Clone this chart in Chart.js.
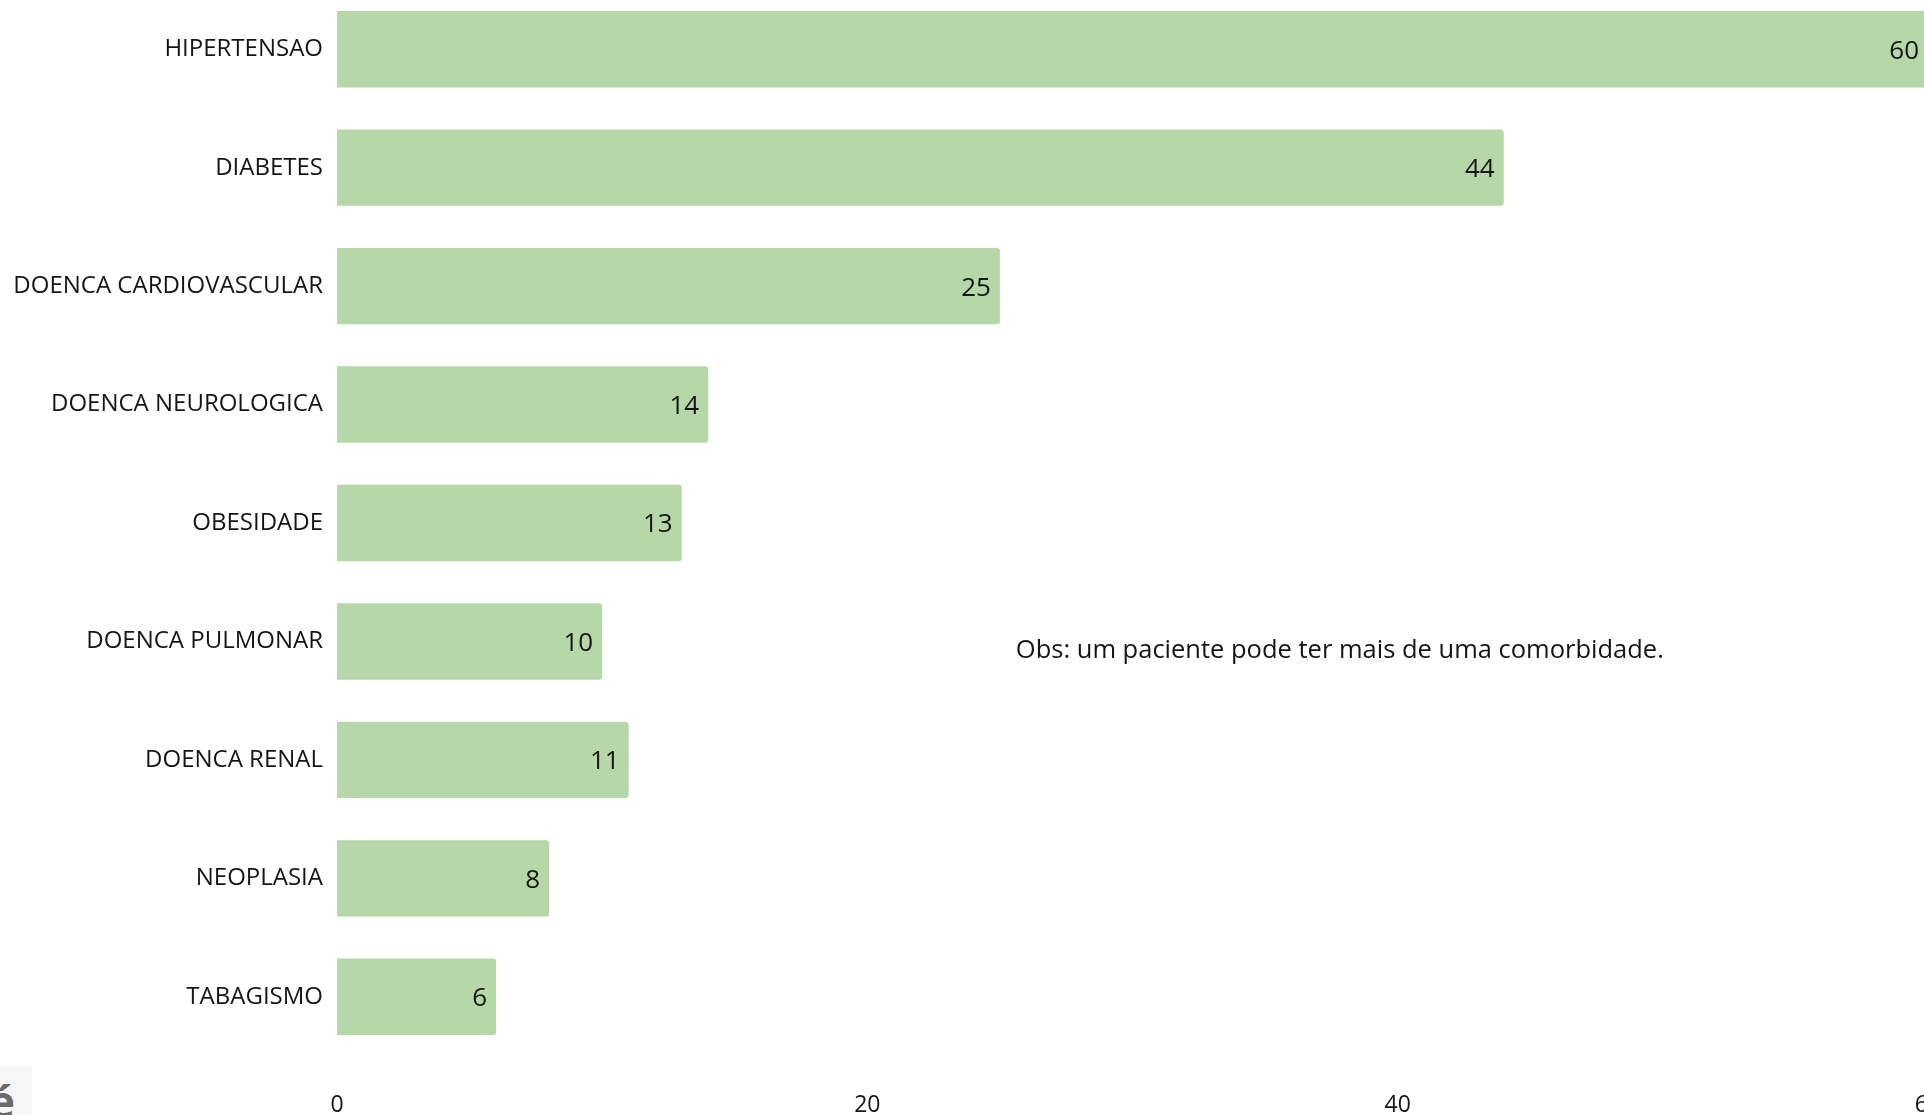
<!DOCTYPE html>
<html>
<head>
<meta charset="utf-8">
<script src="https://cdn.jsdelivr.net/npm/chart.js@4.4.1/dist/chart.umd.min.js"></script>
<style>
  html, body { margin: 0; padding: 0; background: #fff; overflow: hidden; width: 1924px; height: 1115px; }
  #wrap { position: absolute; left: 0; top: -10px; width: 1945px; height: 1130px; }
  #corner { position: absolute; left: 0; top: 1066px; width: 32px; height: 49px; background: #f6f6f6; overflow: hidden; }
  #corner span { position: absolute; left: -11px; top: 5px; font: bold 44px "Open Sans", sans-serif; line-height: normal; color: #6a6a6a; }
</style>
</head>
<body>
<div id="wrap"><canvas id="chart"></canvas></div>
<div id="corner"><span>é</span></div>
<script>
const categories = [
  "HIPERTENSAO", "DIABETES", "DOENCA CARDIOVASCULAR", "DOENCA NEUROLOGICA",
  "OBESIDADE", "DOENCA PULMONAR", "DOENCA RENAL", "NEOPLASIA", "TABAGISMO"
];
const values = [60, 44, 25, 14, 13, 10, 11, 8, 6];
const xTicks = [0, 20, 40, 60];
const note = "Obs: um paciente pode ter mais de uma comorbidade.";

const barColor = "rgb(182, 216, 168)";
const textColor = "#151515";

const valueLabels = {
  id: "valueLabels",
  afterDatasetsDraw(chart) {
    const { ctx } = chart;
    const meta = chart.getDatasetMeta(0);
    ctx.save();
    ctx.font = '26px "Open Sans", sans-serif';
    ctx.fillStyle = textColor;
    ctx.textAlign = "right";
    ctx.textBaseline = "middle";
    meta.data.forEach((bar, i) => {
      ctx.fillText(String(values[i]), bar.x - 9, bar.y + 2);
    });
    ctx.restore();
  }
};

const noteText = {
  id: "noteText",
  afterDraw(chart) {
    const { ctx, scales } = chart;
    ctx.save();
    ctx.font = '25.5px "Open Sans", sans-serif';
    ctx.fillStyle = textColor;
    ctx.textAlign = "left";
    ctx.textBaseline = "middle";
    ctx.fillText(note, scales.x.getPixelForValue(25.6), scales.y.getPixelForValue(5) + 9);
    ctx.restore();
  }
};

new Chart(document.querySelector("#chart"), {
  type: "bar",
  data: {
    labels: categories,
    datasets: [{
      data: values,
      backgroundColor: barColor,
      borderWidth: 0,
      borderRadius: 3,
      borderSkipped: "start",
      barPercentage: 0.645,
      categoryPercentage: 1
    }]
  },
  options: {
    indexAxis: "y",
    responsive: true,
    maintainAspectRatio: false,
    animation: false,
    layout: { padding: { left: 0, right: 17, top: 0, bottom: 0 } },
    scales: {
      x: {
        min: 0,
        max: 60,
        afterBuildTicks: axis => { axis.ticks = xTicks.map(v => ({ value: v })); },
        afterFit: axis => {
          axis.height = 64;
          axis.paddingLeft = 0;
          axis.paddingRight = 0;
        },
        grid: { display: false, drawTicks: false },
        border: { display: false },
        ticks: { color: textColor, padding: 36, font: { family: "Open Sans", size: 23 }, maxRotation: 0 }
      },
      y: {
        afterFit: axis => {
          axis.width = 337;
          axis.paddingTop = 0;
          axis.paddingBottom = 0;
        },
        grid: { display: false, drawTicks: false },
        border: { display: false },
        ticks: { color: textColor, padding: 14, font: { family: "Open Sans", size: 24 } }
      }
    },
    plugins: {
      legend: { display: false },
      tooltip: { enabled: false }
    }
  },
  plugins: [valueLabels, noteText]
});
</script>
</body>
</html>
